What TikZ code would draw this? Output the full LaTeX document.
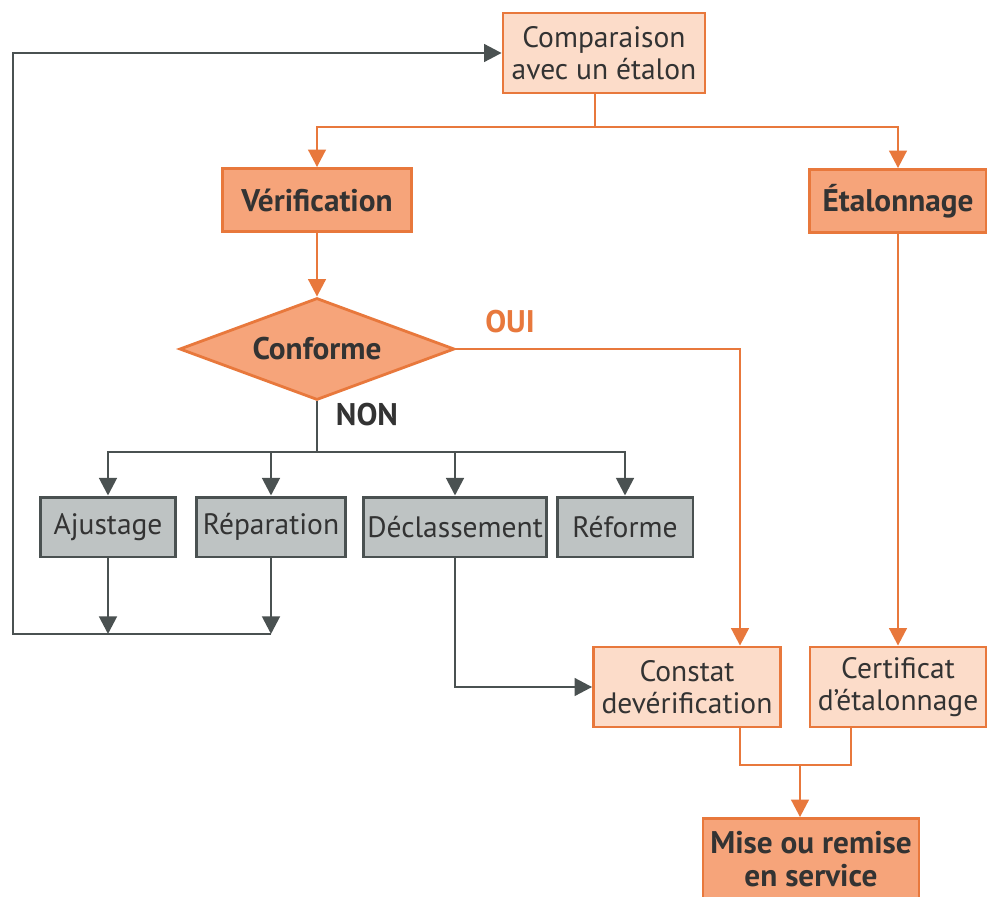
\documentclass[tikz,border=0pt]{standalone}
\usepackage{fontspec}
\setmainfont{PT Sans}
\usetikzlibrary{arrows.meta,shapes.geometric}
\definecolor{oline}{HTML}{E8783C}
\definecolor{lightfill}{HTML}{FCDCC9}
\definecolor{darkfill}{HTML}{F6A47A}
\definecolor{grayfill}{HTML}{BEC3C3}
\definecolor{grayline}{HTML}{4A5151}
\definecolor{txt}{HTML}{333333}
\tikzset{
  regfont/.style={font=\fontsize{16.8}{18.5}\selectfont},
  boldfont/.style={font=\fontsize{17.8}{19}\selectfont\bfseries},
  lightbox/.style={draw=oline,fill=lightfill,line width=1.6pt,text=txt,align=center,inner sep=0pt,regfont},
  darkbox/.style={draw=oline,fill=darkfill,line width=1.6pt,text=txt,align=center,inner sep=0pt,boldfont},
  graybox/.style={draw=grayline,fill=grayfill,line width=1.7pt,text=txt,align=center,inner sep=0pt,regfont},
  ol/.style={draw=oline,line width=1.6pt},
  oa/.style={ol,-{Triangle[length=10pt,width=10pt]}},
  gl/.style={draw=grayline,line width=1.6pt},
  ga/.style={gl,-{Triangle[length=10pt,width=10pt]}},
}
\begin{document}
\begin{tikzpicture}[x=0.02cm,y=-0.02cm]
\useasboundingbox (0,0) rectangle (987,896);
\fill[white] (0,0) rectangle (987,896);
% nodes
\node[lightbox,minimum width=4.04cm,minimum height=1.6cm] (cmp) at (604,53) {Comparaison\\avec un étalon};
\node[darkbox,minimum width=3.78cm,minimum height=1.26cm] (ver) at (317,200) {Vérification};
\node[darkbox,minimum width=3.54cm,minimum height=1.26cm] (eta) at (898,201) {Étalonnage};
\node[diamond,shape aspect=2.7,draw=oline,fill=darkfill,line width=1.6pt,inner sep=0pt,minimum width=5.5cm,minimum height=2.04cm,text=txt,boldfont] (conf) at (317,349) {Conforme};
\node[graybox,minimum width=2.7cm,minimum height=1.2cm] (aju) at (108,527) {Ajustage};
\node[graybox,minimum width=2.98cm,minimum height=1.2cm] (rep) at (271,527) {Réparation};
\node[graybox,minimum width=3.68cm,minimum height=1.2cm] (dec) at (455,527) {Déclassement};
\node[graybox,minimum width=2.72cm,minimum height=1.2cm] (ref) at (625,527) {Réforme};
\node[lightbox,minimum width=3.74cm,minimum height=1.6cm] (cons) at (687,687) {Constat\\devérification};
\node[lightbox,minimum width=3.52cm,minimum height=1.6cm] (cert) at (898,687) {Certificat\\d’étalonnage};
\node[darkbox,minimum width=4.32cm,minimum height=1.62cm] (mise) at (811,859) {Mise ou remise\\en service};
% labels
\node[text=oline,boldfont] (oui) at (510,322) {OUI};
\node[text=txt,boldfont] (non) at (367,415) {NON};
% coordinates
\coordinate (j1) at (595,127);
\coordinate (ouic) at (740,349);
\coordinate (j2) at (317,452);
\coordinate (fa) at (108,634);
\coordinate (fr) at (271,634);
\coordinate (fl) at (13,634);
\coordinate (cb) at (740,765);
\coordinate (ceb) at (851,765);
\coordinate (mj) at (800,765);
% orange connectors
\draw[ol] (cmp.south -| j1) -- (j1);
\draw[oa] (j1) -| (ver.north);
\draw[oa] (j1) -| (eta.north);
\draw[oa] (ver.south) -- (conf.north);
\draw[oa] (conf.east) -- (ouic) -- (ouic |- cons.north);
\draw[oa] (eta.south) -- (cert.north);
\draw[ol] (cons.south -| cb) -- (cb) -- (ceb) -- (cert.south -| ceb);
\draw[oa] (mj) -- (mise.north -| mj);
% gray connectors
\draw[gl] (conf.south) -- (j2);
\draw[ga] (j2) -| (aju.north);
\draw[ga] (j2) -| (rep.north);
\draw[ga] (j2) -| (dec.north);
\draw[ga] (j2) -| (ref.north);
\draw[ga] (aju.south) -- (fa);
\draw[ga] (rep.south) -- (fr);
\draw[ga] (fr) -- (fl) |- (cmp.west);
\draw[ga] (dec.south) |- (cons.west);
\end{tikzpicture}
\end{document}
